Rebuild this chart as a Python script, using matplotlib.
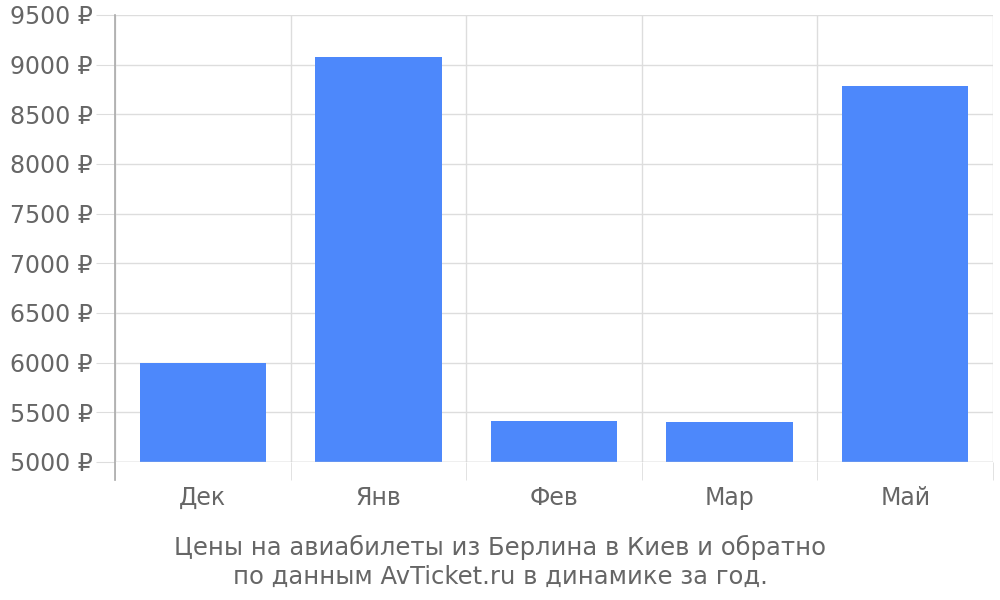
import matplotlib
matplotlib.use("Agg")
import matplotlib.pyplot as plt
import numpy as np

# Цены по месяцам
months = ["Дек", "Янв", "Фев", "Мар", "Май"]
prices = [6000, 9080, 5410, 5400, 8790]
yticks = [5000, 5500, 6000, 6500, 7000, 7500, 8000, 8500, 9000, 9500]

text_color = "#666666"
grid_color = "#dddddd"
fs = 17

fig = plt.figure(figsize=(10, 6), dpi=100)
ax = fig.add_axes([0.115, 0.23, 0.878, 0.745])

x = np.arange(len(months))
ax.bar(x, prices, width=0.72, color="#4d88fb", zorder=3)

ax.set_xlim(-0.5, len(months) - 0.5)
ax.set_ylim(5000, 9500)

ax.set_yticks(yticks)
ax.set_yticklabels([f"{v} ₽" for v in yticks])
ax.set_xticks(x)
ax.set_xticklabels(months)
ax.set_xticks(np.arange(-0.5, len(months)), minor=True)

ax.tick_params(axis="y", length=14, color=grid_color, labelsize=fs,
               labelcolor=text_color, pad=2)
ax.tick_params(axis="x", which="major", length=0, labelsize=fs,
               labelcolor=text_color, pad=17)
ax.tick_params(axis="x", which="minor", length=13, color=grid_color)

ax.grid(axis="y", color=grid_color, linewidth=1, zorder=0)
ax.grid(axis="x", which="minor", color=grid_color, linewidth=1, zorder=0)

for side in ["top", "right", "bottom", "left"]:
    ax.spines[side].set_visible(False)
ax.plot([0, 0], [-0.04, 1], transform=ax.transAxes, color="#aaaaaa",
        linewidth=1.2, clip_on=False, zorder=4)
ax.axhline(5000, color="#cccccc", linewidth=1, zorder=4)

fig.text(0.5, 0.064, "Цены на авиабилеты из Берлина в Киев и обратно\n"
         "по данным AvTicket.ru в динамике за год.",
         ha="center", va="center", fontsize=17.5, color=text_color,
         linespacing=1.25)

fig.savefig("out.png", dpi=100)
